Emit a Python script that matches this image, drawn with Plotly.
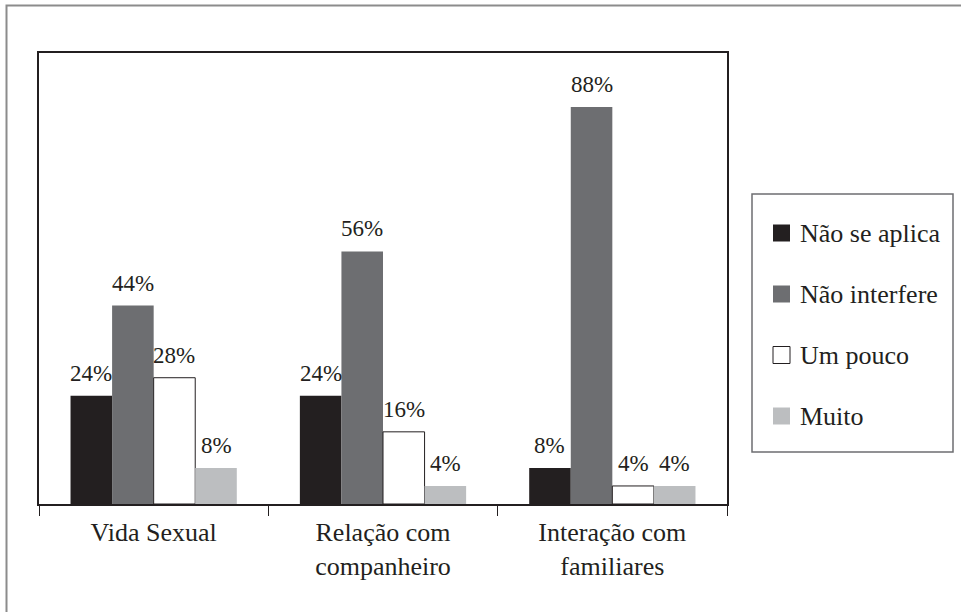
import plotly.graph_objects as go

# Data
categories = ["Vida Sexual", "Relação com<br>companheiro", "Interação com<br>familiares"]
series_names = ["Não se aplica", "Não interfere", "Um pouco", "Muito"]
nao_se_aplica = [24, 24, 8]
nao_interfere = [44, 56, 88]
um_pouco = [28, 16, 4]
muito = [8, 4, 4]
series_values = [nao_se_aplica, nao_interfere, um_pouco, muito]

# Styling
fills = ["#231f20", "#6d6e71", "#ffffff", "#bcbec0"]
outlines = ["#231f20", "#6d6e71", "#231f20", "#bcbec0"]
outline_w = [0, 0, 1, 0]
FONT = "Liberation Serif"
FS_VAL = 23   # value labels
FS_TXT = 26   # axis and legend labels
INK = "#231f20"

W, H = 961, 612
ML, MR, MT, MB = 39, 234, 53, 108
PW, PH = W - ML - MR, H - MT - MB
BARGAP = 0.275


def px_x(px):
    return (px - ML) / PW


def px_y(py):
    return (H - MB - py) / PH


fig = go.Figure()
for name, vals, fc, lc, lw in zip(series_names, series_values, fills, outlines, outline_w):
    fig.add_trace(go.Bar(
        name=name, x=categories, y=vals,
        marker=dict(color=fc, line=dict(color=lc, width=lw)),
        showlegend=False,
    ))

# value labels above each bar
n = len(series_names)
bar_px = PW / len(categories) * (1 - BARGAP) / n
annotations = []
for i, vals in enumerate(series_values):
    for cat, v in zip(categories, vals):
        annotations.append(dict(
            x=cat, y=v, xref="x", yref="y", text=f"{v}%", showarrow=False,
            xanchor="center", yanchor="bottom",
            xshift=(i - (n - 1) / 2) * bar_px, yshift=8,
            font=dict(family=FONT, size=FS_VAL, color=INK),
        ))

# legend box drawn by hand
shapes = []
lg_left, lg_right, lg_top, lg_bottom = 752, 953, 194, 452
shapes.append(dict(type="rect", xref="paper", yref="paper",
                   x0=px_x(lg_left), x1=px_x(lg_right), y0=px_y(lg_bottom), y1=px_y(lg_top),
                   line=dict(color="#6d6e71", width=1.5), fillcolor="rgba(0,0,0,0)", layer="above"))
sw = 17
for k, (name, fc, lc, lw) in enumerate(zip(series_names, fills, outlines, outline_w)):
    cy = 233 + k * 61
    shapes.append(dict(type="rect", xref="paper", yref="paper",
                       x0=px_x(773), x1=px_x(773 + sw), y0=px_y(cy + sw / 2), y1=px_y(cy - sw / 2),
                       line=dict(color=lc, width=lw if lw else 0), fillcolor=fc, layer="above"))
    annotations.append(dict(
        x=px_x(798), y=px_y(cy), xref="paper", yref="paper", text=name, showarrow=False,
        xanchor="left", yanchor="middle",
        font=dict(family=FONT, size=FS_TXT, color=INK),
    ))

# outer frame (top and left edges visible)
shapes.append(dict(type="rect", xref="paper", yref="paper",
                   x0=px_x(6.5), x1=px_x(W + 20), y0=px_y(H + 20), y1=px_y(5.5),
                   line=dict(color="#8c8c8c", width=2), fillcolor="rgba(0,0,0,0)", layer="below"))

fig.update_layout(
    width=W, height=H,
    margin=dict(l=ML, r=MR, t=MT, b=MB, pad=0),
    paper_bgcolor="white", plot_bgcolor="white",
    barmode="group", bargap=BARGAP, bargroupgap=0,
    font=dict(family=FONT, size=FS_TXT, color=INK),
    annotations=annotations, shapes=shapes,
    xaxis=dict(
        showline=True, linecolor=INK, linewidth=2, mirror=True,
        ticks="outside", tickson="boundaries", ticklen=10, tickwidth=1, tickcolor=INK,
        ticklabelstandoff=4,
        showgrid=False, tickfont=dict(family=FONT, size=FS_TXT, color=INK),
        fixedrange=True,
    ),
    yaxis=dict(
        range=[0, 100], showline=True, linecolor=INK, linewidth=2, mirror=True,
        showticklabels=False, ticks="", showgrid=False, zeroline=False, fixedrange=True,
    ),
)

fig.write_html("out.html")
